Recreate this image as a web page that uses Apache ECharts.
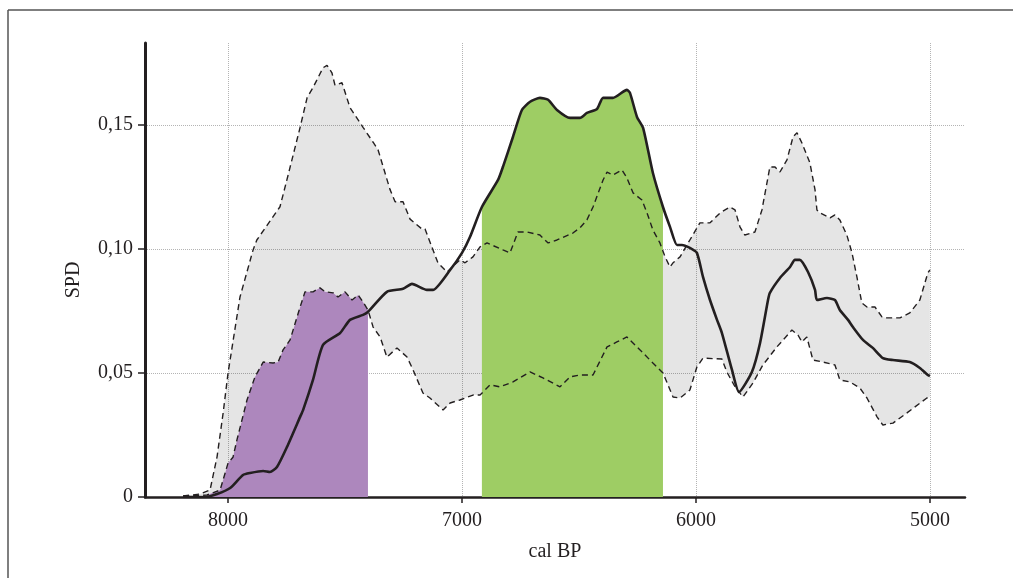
<!DOCTYPE html>
<html>
<head>
<meta charset="utf-8">
<script src="https://cdn.jsdelivr.net/npm/echarts@6/dist/echarts.min.js"></script>
<style>
  html, body { margin: 0; padding: 0; background: #fff; }
  #chart { width: 1013px; height: 578px; }
</style>
</head>
<body>
<div id="chart"></div>
<script>
// summed probability distribution (cal BP, SPD)
var spdBP = [8192, 8098, 8047, 7991, 7936, 7906, 7850, 7821, 7791, 7748, 7692, 7679, 7637, 7594, 7521, 7479, 7423, 7402,
  7321, 7252, 7214, 7150, 7124, 7051, 7000, 6966, 6915, 6846, 6825, 6782, 6744, 6709, 6667, 6632, 6594, 6538, 6496,
  6466, 6423, 6397, 6355, 6295, 6282, 6252, 6226, 6184, 6141, 6111, 6081, 6060, 6026, 5996, 5970, 5940, 5910, 5889,
  5846, 5816, 5761, 5726, 5692, 5684, 5641, 5598, 5577, 5556, 5521, 5491, 5483, 5440, 5406, 5385, 5350, 5329, 5286,
  5244, 5201, 5158, 5086, 5043, 5009, 5000];
var spdVal = [0, 0, 0.0012, 0.0036, 0.0089, 0.0097, 0.0105, 0.0101, 0.0121, 0.0202, 0.0323, 0.0351, 0.0472, 0.0613, 0.0661, 0.0714, 0.0734, 0.0746,
  0.0827, 0.0839, 0.0859, 0.0835, 0.0835, 0.0915, 0.0984, 0.1048, 0.1169, 0.1278, 0.1331, 0.1452, 0.156, 0.1593, 0.1609, 0.1601, 0.156, 0.1528, 0.1528,
  0.1548, 0.1564, 0.1609, 0.1609, 0.1641, 0.1629, 0.1532, 0.1488, 0.1306, 0.1169, 0.1089, 0.1016, 0.1016, 0.1004, 0.0984, 0.0887, 0.0794, 0.0714, 0.0661,
  0.0512, 0.0423, 0.0504, 0.0621, 0.0794, 0.0823, 0.0883, 0.0927, 0.0956, 0.0956, 0.0907, 0.0835, 0.0794, 0.0802, 0.0794, 0.0754, 0.0714, 0.0685, 0.0633,
  0.0601, 0.056, 0.0552, 0.0544, 0.052, 0.0492, 0.0488];

// upper envelope of the null model
var hiBP = [8192, 8120, 8077, 8047, 8021, 8000, 7949, 7893, 7877, 7778, 7748, 7692, 7662, 7637, 7594, 7577, 7556, 7543, 7513,
  7479, 7444, 7423, 7380, 7359, 7308, 7286, 7252, 7222, 7171, 7158, 7124, 7103, 7064, 7009, 6987, 6953, 6923, 6893, 6825,
  6795, 6761, 6722, 6667, 6632, 6594, 6526, 6496, 6466, 6440, 6397, 6380, 6355, 6316, 6295, 6269, 6231, 6209, 6184, 6154,
  6132, 6111, 6098, 6068, 6026, 5983, 5940, 5897, 5855, 5833, 5812, 5791, 5748, 5718, 5684, 5662, 5641, 5611, 5585, 5568,
  5547, 5513, 5491, 5483, 5470, 5427, 5406, 5385, 5355, 5333, 5312, 5291, 5269, 5235, 5205, 5184, 5128, 5086, 5043, 5009, 5000];
var hiVal = [0.0004, 0.0012, 0.0028, 0.0162, 0.0339, 0.05, 0.0806, 0.0996, 0.1036, 0.117, 0.128, 0.149, 0.161, 0.165, 0.173, 0.174, 0.171, 0.166, 0.167,
  0.157, 0.152, 0.149, 0.143, 0.14, 0.124, 0.119, 0.119, 0.112, 0.108, 0.108, 0.0996, 0.0944, 0.0907, 0.0956, 0.0944, 0.0968, 0.1008, 0.1024, 0.0996,
  0.0984, 0.1068, 0.1068, 0.1056, 0.1024, 0.1036, 0.1064, 0.1085, 0.1117, 0.1169, 0.1278, 0.131, 0.1298, 0.1318, 0.1286, 0.1226, 0.1197, 0.1145, 0.1076, 0.1024,
  0.0968, 0.0927, 0.0944, 0.0968, 0.1036, 0.1105, 0.1105, 0.1145, 0.1169, 0.1157, 0.1089, 0.1056, 0.1068, 0.1157, 0.133, 0.133, 0.131, 0.1359, 0.1452, 0.1468,
  0.1427, 0.1347, 0.1238, 0.1157, 0.1145, 0.1125, 0.1137, 0.1117, 0.1056, 0.0984, 0.0887, 0.0782, 0.0766, 0.0766, 0.0726, 0.0722, 0.0722, 0.0742, 0.0794, 0.0903, 0.0915];

// lower envelope of the null model
var loBP = [8192, 8090, 8034, 8000, 7979, 7962, 7919, 7885, 7850, 7808, 7786, 7765, 7735, 7692, 7671, 7637, 7607, 7585, 7551,
  7530, 7500, 7470, 7444, 7423, 7402, 7380, 7350, 7321, 7278, 7235, 7209, 7167, 7137, 7081, 7051, 7009, 6953, 6923, 6880,
  6838, 6782, 6709, 6654, 6581, 6538, 6496, 6440, 6380, 6338, 6295, 6239, 6184, 6141, 6098, 6068, 6026, 5996, 5970, 5889,
  5868, 5833, 5799, 5756, 5714, 5654, 5590, 5564, 5547, 5526, 5500, 5457, 5406, 5385, 5342, 5299, 5269, 5226, 5201, 5158,
  5098, 5013, 5000];
var loVal = [0.0004, 0.0008, 0.0028, 0.0137, 0.016, 0.023, 0.0391, 0.0484, 0.0544, 0.054, 0.0544, 0.0593, 0.0633, 0.0766, 0.0827, 0.0827, 0.0843, 0.0827, 0.0823,
  0.0806, 0.0827, 0.0794, 0.0814, 0.0786, 0.0754, 0.0685, 0.0645, 0.0564, 0.0601, 0.0564, 0.0512, 0.0419, 0.0399, 0.0351, 0.0379, 0.0391, 0.0411, 0.0411, 0.0452,
  0.0444, 0.0464, 0.0504, 0.048, 0.0444, 0.0484, 0.0492, 0.0492, 0.0605, 0.0625, 0.0645, 0.0593, 0.054, 0.05, 0.0403, 0.0399, 0.0431, 0.0524, 0.056, 0.0556,
  0.0504, 0.0444, 0.0403, 0.046, 0.0532, 0.0605, 0.0673, 0.0653, 0.0625, 0.0645, 0.0552, 0.0544, 0.0532, 0.0472, 0.0464, 0.0439, 0.0399, 0.0323, 0.029, 0.0298,
  0.0339, 0.0399, 0.0403];

var xTicks = [8000, 7000, 6000, 5000];
var yTicks = [0, 0.05, 0.1, 0.15];
var posRange = [6915, 6141];   // SPD above envelope
var negRange = [8090, 7402];   // SPD below envelope

function zip(xs, ys) {
  return xs.map(function (x, i) { return [x, ys[i]]; });
}
function within(pairs, r) {
  return pairs.filter(function (p) { return p[0] <= r[0] && p[0] >= r[1]; });
}

var spd = zip(spdBP, spdVal);
var hi = zip(hiBP, hiVal);
var lo = zip(loBP, loVal);

var FONT = 'Liberation Serif';
var INK = '#231f20';
var GRID = '#b4b4b4';

var dom = document.getElementById('chart');
var myChart = echarts.init(dom, null, { renderer: 'canvas' });

var option = {
  animation: false,
  backgroundColor: '#fff',
  textStyle: { fontFamily: FONT },
  grid: { left: 145, right: 48, top: 43, bottom: 81 },
  graphic: [
    { type: 'line', shape: { x1: 8, y1: 10, x2: 1013, y2: 10 }, style: { stroke: '#555', lineWidth: 1.5 } },
    { type: 'line', shape: { x1: 8, y1: 10, x2: 8, y2: 578 }, style: { stroke: '#555', lineWidth: 1.5 } }
  ],
  xAxis: {
    type: 'value',
    inverse: true,
    min: 4850,
    max: 8355,
    name: 'cal BP',
    nameLocation: 'middle',
    nameGap: 45,
    nameTextStyle: { fontFamily: FONT, fontSize: 20, color: INK },
    axisLine: { lineStyle: { color: INK, width: 2.5 } },
    axisTick: { show: true, length: 6, customValues: xTicks, lineStyle: { color: INK, width: 1.5 } },
    axisLabel: {
      customValues: xTicks, margin: 14, fontFamily: FONT, fontSize: 20, color: INK,
      formatter: function (v) { return String(v); }
    },
    splitLine: { show: true, lineStyle: { color: GRID, type: 'dotted', width: 1 } }
  },
  yAxis: {
    type: 'value',
    min: 0,
    max: 0.183,
    name: 'SPD',
    nameLocation: 'middle',
    nameGap: 61,
    nameTextStyle: { fontFamily: FONT, fontSize: 20, color: INK, padding: [0, 20, 0, 0] },
    axisLine: { show: true, lineStyle: { color: INK, width: 3 } },
    axisTick: { show: true, length: 7, customValues: yTicks, lineStyle: { color: INK, width: 1.5 } },
    axisLabel: {
      customValues: yTicks, margin: 12, fontFamily: FONT, fontSize: 20, color: INK,
      formatter: function (v) { return v === 0 ? '0' : v.toFixed(2).replace('.', ','); }
    },
    splitLine: { show: true, lineStyle: { color: GRID, type: 'dotted', width: 1 } }
  },
  series: [
    {
      // grey envelope band
      type: 'custom',
      z: 1,
      silent: true,
      data: [[6000, 0.1]],
      renderItem: function (params, api) {
        var pts = [];
        hi.forEach(function (p) { pts.push(api.coord(p)); });
        for (var i = lo.length - 1; i >= 0; i--) pts.push(api.coord(lo[i]));
        return { type: 'polygon', shape: { points: pts }, style: { fill: 'rgba(0,0,0,0.1)' } };
      }
    },
    {
      type: 'line', z: 2, data: within(lo, negRange), showSymbol: false,
      lineStyle: { width: 0 }, areaStyle: { color: '#ad87bd', opacity: 1 }
    },
    {
      type: 'line', z: 2, data: within(spd, posRange), showSymbol: false,
      lineStyle: { width: 0 }, areaStyle: { color: '#9ecd64', opacity: 1 }
    },
    {
      type: 'line', z: 3, data: hi, showSymbol: false,
      lineStyle: { color: INK, width: 1.4, type: [6, 4] }
    },
    {
      type: 'line', z: 3, data: lo, showSymbol: false,
      lineStyle: { color: INK, width: 1.4, type: [6, 4] }
    },
    {
      type: 'line', z: 4, data: spd, showSymbol: false, smooth: 0.2,
      lineStyle: { color: INK, width: 2.6 }
    }
  ]
};

myChart.setOption(option);
window.addEventListener('resize', myChart.resize);
</script>
</body>
</html>
